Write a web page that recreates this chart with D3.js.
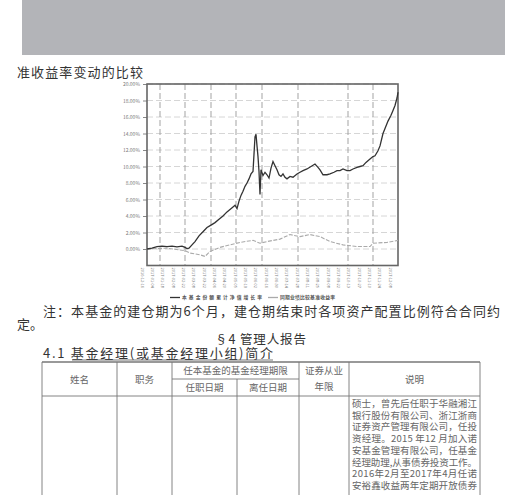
<!DOCTYPE html>
<html>
<head>
<meta charset="utf-8">
<script src="https://cdn.jsdelivr.net/npm/d3@7"></script>
<style>
  body { margin: 0; background: #fff; }
  svg { display: block; font-family: "Noto Sans CJK SC", sans-serif; }
</style>
</head>
<body>
<svg id="page" width="505" height="495"></svg>
<script>
// cumulative return of the fund vs. its benchmark
const fundDays = [0, 5, 10, 15, 20, 25, 30, 35, 38, 40, 42, 45, 48, 52, 56, 60, 64, 68, 72, 76, 80, 83, 86, 88, 90, 92, 94, 96, 98, 100,
  102, 104, 106, 107, 108, 109, 110, 111, 112, 113, 114, 116, 118, 120, 122, 124, 126, 128, 130, 132, 134, 136, 138, 140, 143, 146,
  150, 153, 156, 160, 164, 168, 171, 173, 176, 180, 183, 187, 190, 193, 196, 200, 203, 206, 210, 213, 216, 219, 223, 226, 228, 231,
  233, 236, 238, 241, 244, 246, 248, 250, 251]
const fundReturn = [0.0, 0.1, 0.3, 0.35, 0.3, 0.35, 0.25, 0.35, 0.2, 0.05, 0.1, 0.5, 0.9, 1.6, 2.1, 2.6, 2.9, 3.2, 3.6, 4.0, 4.5, 4.8, 5.1, 5.3, 4.9, 5.8, 6.5, 7.0, 7.6, 8.0,
  8.5, 9.1, 9.4, 11.5, 13.6, 13.9, 12.5, 11.2, 9.4, 6.6, 9.6, 8.9, 9.3, 9.0, 8.6, 9.8, 10.6, 10.1, 9.6, 9.0, 8.8, 9.1, 8.7, 8.5, 8.8, 8.7,
  9.1, 9.3, 9.5, 9.7, 10.0, 10.3, 9.9, 9.6, 9.0, 9.0, 9.1, 9.3, 9.5, 9.5, 9.7, 9.5, 9.5, 9.7, 9.9, 10.0, 10.1, 10.5, 10.9, 11.2, 11.3, 11.9,
  12.5, 14.0, 14.6, 15.5, 16.2, 16.8, 17.4, 18.3, 19.0]

const benchDays = [0, 20, 38, 43, 48, 53, 58, 63, 73, 83, 93, 106, 113, 120, 133, 143, 153, 163, 173, 183, 196, 210, 223, 226, 240, 251]
const benchReturn = [0.0, 0.1, -0.2, -0.5, -0.6, -0.7, -0.9, -0.3, 0.2, 0.5, 0.8, 1.05, 0.7, 0.9, 1.2, 1.75, 1.5, 1.75, 1.5, 0.9, 0.5, 0.3, 0.3, 0.7, 0.8, 1.05]

const yTicks = [0, 2, 4, 6, 8, 10, 12, 14, 16, 18, 20]
const gridDays = [13, 38, 64, 89, 115, 151, 201, 226]
const dateLabels = ['2016-12-16', '2017-01-04', '2017-01-18', '2017-02-08', '2017-02-22', '2017-03-08', '2017-03-22',
  '2017-04-06', '2017-04-20', '2017-05-05', '2017-05-19', '2017-06-02', '2017-06-16', '2017-06-30', '2017-07-14',
  '2017-07-28', '2017-08-11', '2017-08-25', '2017-09-08', '2017-09-22', '2017-10-13', '2017-10-27', '2017-11-10',
  '2017-11-24', '2017-12-08']
const seriesNames = ['本基金份额累计净值增长率', '同期业绩比较基准收益率']

const tableHead = ['姓名', '职务', '任本基金的基金经理期限', '证券从业', '说明']
const tableSubHead = ['任职日期', '离任日期']
const bioLines = [
  '硕士，曾先后任职于华融湘江',
  '银行股份有限公司、浙江浙商',
  '证券资产管理有限公司，任投',
  '资经理。2015 年12 月加入诺',
  '安基金管理有限公司，任基金',
  '经理助理,从事债券投资工作。',
  '2016年2月至2017年4月任诺',
  '安裕鑫收益两年定期开放债券'
]

const svg = d3.select('#page')
const textCol = '#333'

// grey band at the top of the page
svg.append('rect')
  .attr('x', 22).attr('y', 0)
  .attr('width', 483).attr('height', 55)
  .attr('fill', '#b3b4b8')

svg.append('text')
  .attr('x', 17).attr('y', 77)
  .attr('font-size', 13)
  .attr('fill', textCol)
  .attr('textLength', 126)
  .text('准收益率变动的比较')

// ---- chart ----
const plot = { left: 147, right: 398, top: 84, bottom: 265.5 }

const x = d3.scaleLinear()
  .domain([0, 251])
  .range([plot.left, plot.right])

const y = d3.scaleLinear()
  .domain([-2, 20])
  .range([plot.bottom, plot.top])

const labelX = d3.scalePoint()
  .domain(dateLabels)
  .range([142, 390])

const chart = svg.append('g')

// horizontal grid
chart.append('g')
  .selectAll('line')
  .data(yTicks)
  .join('line')
  .attr('x1', plot.left).attr('x2', plot.right)
  .attr('y1', d => y(d)).attr('y2', d => y(d))
  .attr('stroke', '#ccc')
  .attr('stroke-dasharray', '6,3')
  .attr('stroke-width', 0.8)

// vertical grid
chart.append('g')
  .selectAll('line')
  .data(gridDays)
  .join('line')
  .attr('x1', d => x(d)).attr('x2', d => x(d))
  .attr('y1', plot.top).attr('y2', plot.bottom)
  .attr('stroke', '#999')
  .attr('stroke-dasharray', '6,3')
  .attr('stroke-width', 0.9)

const yAxis = d3.axisLeft(y)
  .tickValues(yTicks)
  .tickFormat(d => d.toFixed(2) + '%')
  .tickSize(4)

chart.append('g')
  .attr('transform', `translate(${plot.left},0)`)
  .call(yAxis)
  .call(g => g.select('.domain').remove())
  .call(g => g.selectAll('line').attr('stroke', '#888'))
  .call(g => g.selectAll('text')
    .attr('font-size', 5)
    .attr('fill', '#777')
    .attr('font-family', 'Noto Sans CJK SC'))

// frame
chart.append('rect')
  .attr('x', plot.left).attr('y', plot.top)
  .attr('width', plot.right - plot.left)
  .attr('height', plot.bottom - plot.top)
  .attr('fill', 'none')
  .attr('stroke', '#666')
  .attr('stroke-width', 1.6)

const line = d3.line()
  .x(d => x(d[0]))
  .y(d => y(d[1]))

chart.append('path')
  .attr('d', line(benchDays.map((d, i) => [d, benchReturn[i]])))
  .attr('fill', 'none')
  .attr('stroke', '#aaa')
  .attr('stroke-width', 1.1)
  .attr('stroke-dasharray', '4,1.5')

chart.append('path')
  .attr('d', line(fundDays.map((d, i) => [d, fundReturn[i]])))
  .attr('fill', 'none')
  .attr('stroke', '#333')
  .attr('stroke-width', 1.3)

// rotated date labels
chart.append('g')
  .selectAll('text')
  .data(dateLabels)
  .join('text')
  .attr('transform', d => `translate(${labelX(d) - 1.5},${plot.bottom + 2}) rotate(90)`)
  .attr('font-size', 4)
  .attr('fill', '#777')
  .text(d => d)

// legend
const legend = chart.append('g').attr('transform', 'translate(0,297.5)')
const legendX = [170, 268]
const legendW = [80, 55]
seriesNames.forEach((name, i) => {
  legend.append('line')
    .attr('x1', legendX[i]).attr('x2', legendX[i] + 10)
    .attr('stroke', i === 0 ? '#333' : '#aaa')
    .attr('stroke-width', 1.3)
  legend.append('text')
    .attr('x', legendX[i] + 12).attr('y', 1.7)
    .attr('font-size', 4.8)
    .attr('font-weight', 'bold')
    .attr('fill', '#555')
    .attr('textLength', legendW[i])
    .text(name)
})

// ---- notes and headings ----
svg.append('text')
  .attr('x', 43).attr('y', 316)
  .attr('font-size', 13)
  .attr('fill', textCol)
  .attr('textLength', 457)
  .text('注：本基金的建仓期为6个月，建仓期结束时各项资产配置比例符合合同约')

svg.append('text')
  .attr('x', 17).attr('y', 329)
  .attr('font-size', 13)
  .attr('fill', textCol)
  .text('定。')

svg.append('text')
  .attr('x', 215).attr('y', 344)
  .attr('font-size', 12.5)
  .attr('fill', textCol)
  .attr('textLength', 91)
  .text('§4 管理人报告')

svg.append('text')
  .attr('x', 43).attr('y', 358)
  .attr('font-size', 13)
  .attr('fill', textCol)
  .attr('textLength', 230)
  .text('4.1 基金经理(或基金经理小组)简介')

svg.append('line')
  .attr('x1', 72).attr('x2', 273)
  .attr('y1', 360).attr('y2', 360)
  .attr('stroke', '#555')
  .attr('stroke-width', 0.8)

// ---- table ----
const cols = [42, 117, 172, 237, 299, 349, 480]
const rows = { top: 362, mid: 379, head: 396, bottom: 495 }
const tbl = svg.append('g').attr('stroke', '#777').attr('stroke-width', 0.9)

tbl.append('line').attr('x1', cols[0]).attr('x2', cols[6]).attr('y1', rows.top).attr('y2', rows.top).attr('stroke-width', 1.3)
tbl.append('line').attr('x1', cols[0]).attr('x2', cols[6]).attr('y1', rows.head).attr('y2', rows.head)
tbl.append('line').attr('x1', cols[2]).attr('x2', cols[4]).attr('y1', rows.mid).attr('y2', rows.mid)
cols.forEach(c => {
  tbl.append('line')
    .attr('x1', c).attr('x2', c)
    .attr('y1', c === cols[3] ? rows.mid : rows.top)
    .attr('y2', rows.bottom)
})

const cellText = (tx, ty, s, anchor = 'middle') => svg.append('text')
  .attr('x', tx).attr('y', ty)
  .attr('text-anchor', anchor)
  .attr('font-size', 9.5)
  .attr('fill', '#666')
  .text(s)

cellText((cols[0] + cols[1]) / 2, 383, tableHead[0])
cellText((cols[1] + cols[2]) / 2, 383, tableHead[1])
cellText((cols[2] + cols[4]) / 2, 374, tableHead[2])
cellText((cols[4] + cols[5]) / 2, 374, tableHead[3])
cellText((cols[4] + cols[5]) / 2, 390, '年限')
cellText((cols[5] + cols[6]) / 2, 383, tableHead[4])
cellText((cols[2] + cols[3]) / 2, 391, tableSubHead[0])
cellText((cols[3] + cols[4]) / 2, 391, tableSubHead[1])

bioLines.forEach((s, i) => {
  cellText(352, 407 + i * 11.7, s, 'start')
    .attr('font-size', 9.5)
    .attr('textLength', 125)
})
</script>
</body>
</html>
